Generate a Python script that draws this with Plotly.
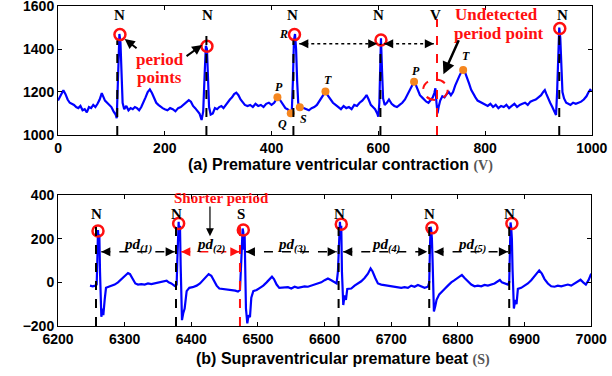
import plotly.graph_objects as go

# ---------------- data: (a) premature ventricular contraction ----------------
xa = [0,3,6,10,14,18,22,26,30,34,38,42,46,50,54,58,62,66,70,74,78,82,85,88,92,96,100,104,108,110,
      112,114,115,117,119,121,124,128,132,136,140,144,148,152,156,160,164,168,172,176,180,184,188,192,
      196,200,205,210,215,220,225,230,235,240,245,249,253,257,261,265,269,272,275,277,279,281,283,286,
      290,294,298,302,306,310,314,318,322,326,330,334,338,342,346,350,355,360,365,370,375,380,385,390,
      395,400,405,408,411,414,418,422,426,430,434,436,438,440,442,444,446,448,450,453,456,460,465,470,
      475,480,485,490,495,498,501,505,510,515,520,525,530,535,540,545,550,555,560,565,570,575,578,582,
      586,590,594,598,600,602,604,605,607,609,612,616,620,625,630,635,640,645,650,655,660,664,667,670,
      674,678,682,686,690,694,698,702,705,707,709,711,713,716,720,724,728,732,736,740,744,748,752,756,
      759,762,766,770,774,778,782,786,790,795,800,805,810,815,820,825,830,835,840,845,850,855,860,865,
      870,875,880,885,890,895,900,905,909,912,915,918,922,926,930,933,935,937,939,941,943,945,948,952,
      956,960,965,970,975,980,985,990,994,997,1000]
ya = [1160,1175,1195,1208,1190,1165,1150,1145,1140,1130,1125,1135,1115,1120,1105,1130,1125,1140,1130,1145,1165,1195,1180,1160,1150,1140,1130,1110,1095,1078,
      1200,1400,1470,1430,1250,1150,1120,1135,1115,1125,1120,1130,1125,1115,1130,1150,1175,1200,1212,1195,1170,1150,1140,1130,
      1125,1120,1115,1125,1120,1110,1125,1130,1140,1150,1162,1155,1135,1125,1110,1100,1070,1110,1300,1415,1400,1250,1130,1095,
      1100,1125,1120,1130,1135,1125,1140,1150,1165,1175,1190,1197,1185,1165,1150,1140,1135,1140,1130,1145,1135,1140,1130,1145,
      1150,1140,1150,1165,1175,1170,1155,1135,1125,1120,1110,1100,1110,1250,1440,1470,1400,1250,1150,1128,1130,1125,1120,1115,
      1125,1130,1140,1160,1180,1195,1202,1185,1165,1150,1140,1130,1120,1135,1125,1130,1120,1140,1135,1150,1160,1175,1186,1165,
      1140,1130,1120,1100,1085,1150,1350,1450,1300,1170,1140,1150,1165,1145,1135,1130,1140,1150,1165,1190,1215,1240,1248,1235,
      1210,1185,1175,1165,1155,1150,1165,1175,1195,1217,1150,1101,1130,1160,1180,1175,1190,1200,1185,1200,1230,1255,1275,1295,
      1302,1295,1270,1240,1210,1190,1175,1160,1155,1145,1140,1135,1145,1130,1140,1125,1135,1130,1140,1125,1135,1145,1130,1140,
      1145,1150,1140,1155,1160,1165,1175,1185,1200,1209,1190,1170,1150,1130,1110,1093,1200,1420,1500,1450,1300,1200,1170,1150,
      1145,1140,1150,1145,1150,1155,1165,1180,1200,1210,1205]

# period points (red circles) and dashed marker lines
pa_x = [116, 279, 443, 605, 940]
pa_y = [1467, 1413, 1467, 1442, 1495]
la_x = [111, 278, 441, 604, 939]
la_top = [1440, 1490, 1440, 1425, 1470]
# wave points P Q S T P T
wa_x = [411, 436, 453, 501, 667, 759]
wa_y = [1175, 1101, 1129, 1202, 1248, 1302]
wa_lbl = ["P", "Q", "S", "T", "P", "T"]
wa_lx = [414, 420, 460, 505, 671, 765]
wa_ly = [1222, 1051, 1076, 1256, 1298, 1366]
na_lbl_x = [116, 280, 440, 601, 946]

# ---------------- data: (b) supraventricular premature beat ----------------
xb = [6248,6252,6256,6258,6259,6260,6261,6262,6263,6264,6265,6267,6268,6270,6272,6276,6280,6285,6290,6295,
      6300,6305,6308,6312,6316,6320,6325,6330,6335,6340,6345,6350,6355,6360,6363,6366,6370,6375,6378,6379,
      6380,6381,6382,6383,6384,6385,6386,6388,6390,6393,6397,6402,6408,6413,6418,6422,6426,6430,6434,6438,
      6442,6448,6454,6460,6466,6470,6473,6475,6477,6478,6479,6480,6481,6482,6484,6486,6488,6490,6493,6498,
      6503,6508,6513,6518,6521,6524,6528,6532,6538,6545,6550,6555,6560,6565,6570,6575,6580,6585,6590,6595,
      6600,6605,6610,6615,6618,6620,6622,6623,6624,6625,6626,6628,6630,6632,6634,6640,6645,6650,6655,6660,
      6665,6669,6672,6676,6680,6685,6690,6695,6700,6705,6710,6715,6720,6725,6730,6735,6740,6745,6750,6755,
      6757,6758,6759,6760,6761,6762,6763,6764,6766,6768,6772,6776,6780,6785,6790,6795,6800,6806,6810,6815,
      6820,6825,6830,6835,6840,6845,6850,6855,6860,6863,6866,6870,6875,6877,6878,6879,6880,6881,6882,6883,
      6884,6886,6888,6890,6895,6900,6905,6910,6915,6920,6922,6926,6930,6935,6940,6945,6950,6955,6960,6965,
      6970,6975,6980,6984,6988,6992,6996,7000]
yb = [-15,-18,-15,-10,100,240,180,220,50,-100,-158,-120,-150,-80,-25,-20,-15,-10,0,15,
      30,43,38,15,-5,-10,-8,-10,-5,-8,-5,-3,0,5,8,0,-5,-16,-10,100,
      250,278,200,260,80,-100,-173,-140,-120,-40,-25,-22,-15,-5,10,25,38,30,10,-15,
      -28,-30,-32,-35,-38,-42,-35,100,247,230,150,220,50,-120,-188,-150,-160,-70,-40,-35,
      -25,-15,0,15,26,15,-10,-25,-25,-22,-28,-20,-25,-22,-18,-20,-15,-10,-5,0,
      10,18,10,0,-5,50,200,278,230,260,50,-104,-60,-80,-30,-28,-15,-5,5,20,
      40,64,50,20,-5,-10,-12,-15,-18,-20,-22,-25,-22,-25,-15,-20,-12,-18,-25,-20,
      0,150,255,240,200,100,-50,-133,-110,-80,-55,-40,-30,-15,0,10,20,34,20,5,
      -10,-18,-15,-18,-12,-15,-10,-5,5,11,0,-5,-10,0,150,275,250,200,60,-60,
      -120,-80,-100,-30,-25,-15,-5,10,30,50,55,40,15,-5,-18,-20,-15,-18,-15,-10,
      -15,-5,5,12,0,-10,10,40]

pb_x = [6260, 6381, 6478, 6625, 6761, 6881]
pb_y = [236, 270, 240, 267, 250, 270]
lb_x = [6257, 6377, 6473, 6621, 6757, 6877]
lb_top = [285, 275, 280, 265, 280, 272]
lb_lbl = ["N", "N", "S", "N", "N", "N"]
lb_lbl_x = [6258, 6378, 6475, 6622, 6758, 6878]
pd_x0 = [6265, 6385, 6482, 6628, 6765]
pd_x1 = [6375, 6472, 6618, 6754, 6875]
pd_lbl = ["(1)", "(2)", "(3)", "(4)", "(5)"]

BLUE = "#0000FF"
RED = "#FF1010"
ORANGE = "#F5861F"
SERIF = "Liberation Serif"
SANS = "Liberation Sans"

fig = go.Figure()
fig.add_trace(go.Scatter(x=xa, y=ya, mode="lines", line=dict(color=BLUE, width=2.2),
                         xaxis="x", yaxis="y", showlegend=False, hoverinfo="skip"))
fig.add_trace(go.Scatter(x=xb, y=yb, mode="lines", line=dict(color=BLUE, width=2.2),
                         xaxis="x2", yaxis="y2", showlegend=False, hoverinfo="skip"))

shapes = []
for x, t in zip(la_x, la_top):
    shapes.append(dict(type="line", xref="x", yref="y", x0=x, x1=x, y0=1000, y1=t,
                       line=dict(color="black", width=2, dash="dash")))
shapes.append(dict(type="line", xref="x", yref="y", x0=710, x1=710, y0=1000, y1=1540,
                   line=dict(color=RED, width=2, dash="dash")))
shapes.append(dict(type="circle", xref="x", yref="y", x0=684, x1=730, y0=1163, y1=1258,
                   line=dict(color=RED, width=2, dash="dash")))
# dotted interval arrows (a)
for a0, a1 in [(452, 598), (611, 704)]:
    shapes.append(dict(type="line", xref="x", yref="y", x0=a0, x1=a1, y0=1424, y1=1424,
                       line=dict(color="black", width=1.5, dash="dot")))
for i, (x, t) in enumerate(zip(lb_x, lb_top)):
    c = RED if lb_lbl[i] == "S" else "black"
    shapes.append(dict(type="line", xref="x2", yref="y2", x0=x, x1=x, y0=-200, y1=t,
                       line=dict(color=c, width=2, dash="dash")))
for i, (a0, a1) in enumerate(zip(pd_x0, pd_x1)):
    c = RED if i == 1 else "black"
    shapes.append(dict(type="line", xref="x2", yref="y2", x0=a0, x1=a1, y0=140, y1=140,
                       line=dict(color=c, width=1.5, dash="dash")))

# markers
fig.add_trace(go.Scatter(x=pa_x, y=pa_y, mode="markers", xaxis="x", yaxis="y", showlegend=False,
                         marker=dict(symbol="circle-open", size=11, color=RED, line=dict(width=2.5, color=RED))))
fig.add_trace(go.Scatter(x=wa_x, y=wa_y, mode="markers", xaxis="x", yaxis="y", showlegend=False,
                         marker=dict(size=8, color=ORANGE)))
fig.add_trace(go.Scatter(x=pb_x, y=pb_y, mode="markers", xaxis="x2", yaxis="y2", showlegend=False,
                         marker=dict(symbol="circle-open", size=11, color=RED, line=dict(width=2.5, color=RED))))

ann = []
def txt(x, y, s, size=14, color="black", xref="x", yref="y", family=SERIF, **kw):
    ann.append(dict(x=x, y=y, xref=xref, yref=yref, text=s, showarrow=False,
                    xanchor="center", yanchor="middle",
                    font=dict(size=size, color=color, family=family), **kw))

def arrow(x, y, ax, ay, xref="x", yref="y", color="black", width=2, head=2, size=1.0):
    ann.append(dict(x=x, y=y, ax=ax, ay=ay, xref=xref, yref=yref, axref=xref, ayref=yref,
                    text="", showarrow=True, arrowhead=head, arrowsize=size, arrowwidth=width,
                    arrowcolor=color))

for x in na_lbl_x:
    txt(x, 1560, "<b>N</b>", 15)
txt(707, 1560, "<b>V</b>", 15)
txt(191, 1352, "<b>period</b>", 17, RED)
txt(191, 1266, "<b>points</b>", 17, RED)
arrow(125, 1447, 150, 1398)
arrow(270, 1419, 238, 1362)
txt(822, 1560, "<b>Undetected</b>", 17, RED)
txt(826, 1474, "<b>period point</b>", 17, RED)
arrow(722, 1282, 752, 1448, width=2.5)
txt(422, 1470, "<b><i>R</i></b>", 12)
for lbl, lx, ly in zip(wa_lbl, wa_lx, wa_ly):
    txt(lx, ly, "<b><i>%s</i></b>" % lbl, 12)
# arrowheads of dotted double arrows
for xh, ax in [(452, 470), (598, 580), (611, 629), (704, 686)]:
    arrow(xh, 1424, ax, 1424, width=1.5, head=2, size=1.2)

# (b) annotations
for lbl, lx in zip(lb_lbl, lb_lbl_x):
    txt(lx, 312, "<b>%s</b>" % lbl, 15, xref="x2", yref="y2")
txt(6446, 386, "<b>Shorter period</b>", 15, RED, xref="x2", yref="y2")
arrow(6428, 212, 6428, 355, xref="x2", yref="y2", width=1.2, head=2, size=1.3)
for i, (a0, a1) in enumerate(zip(pd_x0, pd_x1)):
    c = RED if i == 1 else "black"
    arrow(a0, 140, a0 + 14, 140, xref="x2", yref="y2", color=c, width=1.5, size=1.2)
    arrow(a1, 140, a1 - 14, 140, xref="x2", yref="y2", color=c, width=1.5, size=1.2)
    txt((a0 + a1) / 2, 168, "<b><i>pd</i></b><sub><b><i>%s</i></b></sub>" % pd_lbl[i], 15,
        xref="x2", yref="y2")

# panel titles
ann.append(dict(x=0.556, y=0.561, xref="paper", yref="paper", showarrow=False,
                xanchor="center", yanchor="middle",
                text="<b>(a) Premature ventricular contraction</b> "
                     "<span style='font-family:Liberation Serif;color:#555555;font-size:14px'><b>(V)</b></span>",
                font=dict(size=16, family=SANS, color="black")))
ann.append(dict(x=0.561, y=0.045, xref="paper", yref="paper", showarrow=False,
                xanchor="center", yanchor="middle",
                text="<b>(b) Supraventricular premature beat</b> "
                     "<span style='font-family:Liberation Serif;color:#555555;font-size:14px'><b>(S)</b></span>",
                font=dict(size=16, family=SANS, color="black")))

axis_common = dict(showline=True, mirror="ticks", linecolor="black", linewidth=1, automargin=False,
                   ticks="inside", ticklen=4, tickcolor="black", showgrid=False, zeroline=False,
                   ticklabeloverflow="allow",
                   tickfont=dict(family=SANS, size=14, color="black", weight="bold"))

fig.update_layout(
    width=612, height=376, margin=dict(l=0, r=0, t=0, b=0),
    paper_bgcolor="white", plot_bgcolor="white",
    xaxis=dict(domain=[0.0948, 0.967], range=[0, 1000], tickvals=[0, 200, 400, 600, 800, 1000],
               anchor="y", **axis_common),
    yaxis=dict(domain=[0.641, 0.984], range=[1000, 1600], tickvals=[1000, 1200, 1400, 1600],
               anchor="x", **axis_common),
    xaxis2=dict(domain=[0.0948, 0.966], range=[6200, 7000],
                tickvals=[6200, 6300, 6400, 6500, 6600, 6700, 6800, 6900, 7000],
                anchor="y2", **axis_common),
    yaxis2=dict(domain=[0.133, 0.481], range=[-200, 400], tickvals=[-200, 0, 200, 400],
                anchor="x2", **axis_common),
    shapes=shapes, annotations=ann,
)

fig.write_html("out.html", config={"displayModeBar": False},
               post_script="document.body.style.margin='0';")
